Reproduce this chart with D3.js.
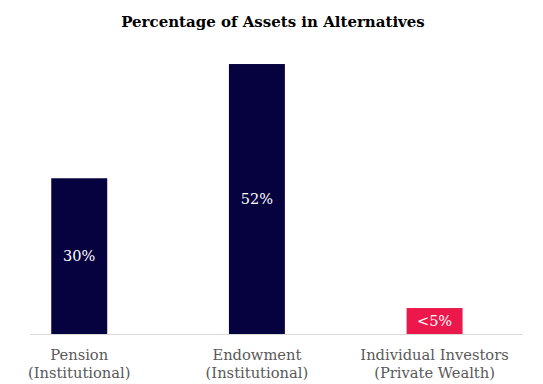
<!DOCTYPE html>
<html>
<head>
<meta charset="utf-8">
<script src="https://cdn.jsdelivr.net/npm/d3@7"></script>
<style>
  html, body { margin: 0; padding: 0; background: #fff; }
  svg { display: block; }
</style>
</head>
<body>
<svg id="chart" width="543" height="384"></svg>
<script>
const categories = [['Pension', '(Institutional)'], ['Endowment', '(Institutional)'], ['Individual Investors', '(Private Wealth)']];
const values = [30, 52, 5];
const valueLabels = ['30%', '52%', '<5%'];
const barColors = ['#06023f', '#06023f', '#ec184b'];
const title = 'Percentage of Assets in Alternatives';

const serif = 'Georgia, "DejaVu Serif", "Liberation Serif", serif';
const width = 543, height = 384;
const svg = d3.select('#chart');

svg.append('rect').attr('width', width).attr('height', height).attr('fill', '#fff');

// Title
svg.append('text')
  .attr('x', 273)
  .attr('y', 27)
  .attr('text-anchor', 'middle')
  .attr('font-family', serif)
  .attr('font-weight', 'bold')
  .attr('font-size', '15px')
  .attr('fill', '#000')
  .text(title);

const keys = categories.map(d => d.join(' '));

const x = d3.scaleBand()
  .domain(keys)
  .range([-9.6, 523.4])
  .paddingInner(0.685)
  .paddingOuter(0.3425);

const y = d3.scaleLinear()
  .domain([0, 60])
  .range([334, 22.5]);

// Bars
svg.append('g')
  .selectAll('rect')
  .data(values)
  .join('rect')
  .attr('x', (d, i) => x(keys[i]))
  .attr('width', x.bandwidth())
  .attr('y', d => y(d))
  .attr('height', d => y(0) - y(d))
  .attr('fill', (d, i) => barColors[i]);

// Value labels centred in bars
svg.append('g')
  .selectAll('text')
  .data(values)
  .join('text')
  .attr('x', (d, i) => x(keys[i]) + x.bandwidth() / 2)
  .attr('y', d => (y(d) + y(0)) / 2)
  .attr('dy', '0.35em')
  .attr('text-anchor', 'middle')
  .attr('font-family', serif)
  .attr('font-size', '14.5px')
  .attr('fill', '#fff')
  .text((d, i) => valueLabels[i]);

// Baseline
svg.append('line')
  .attr('x1', 30).attr('x2', 523)
  .attr('y1', y(0) + 0.5).attr('y2', y(0) + 0.5)
  .attr('stroke', '#d9d9d9')
  .attr('stroke-width', 1);

// Category labels
const labels = svg.append('g')
  .selectAll('text')
  .data(categories)
  .join('text')
  .attr('text-anchor', 'middle')
  .attr('font-family', serif)
  .attr('font-size', '14.7px')
  .attr('fill', '#595959');

labels.selectAll('tspan')
  .data((d, i) => d.map(t => ({ t, k: keys[i] })))
  .join('tspan')
  .attr('x', d => x(d.k) + x.bandwidth() / 2)
  .attr('y', (d, j) => 360 + j * 18)
  .text(d => d.t);
</script>
</body>
</html>
